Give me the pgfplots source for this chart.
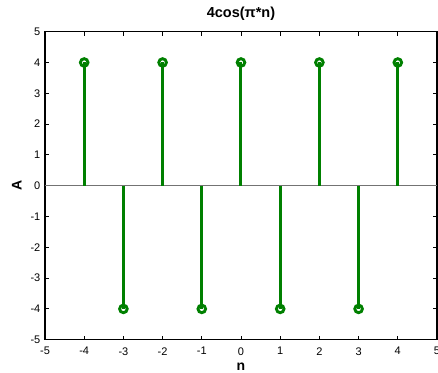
\documentclass[border=0pt]{standalone}
\usepackage{fontspec}
\setmainfont{Liberation Sans}
\usepackage{pgfplots}
\pgfplotsset{compat=1.18}
\definecolor{stemgreen}{RGB}{0,128,0}
\begin{document}
\begin{tikzpicture}
\path[use as bounding box] (0,0) rectangle (438bp,373bp);
\begin{axis}[
  at={(45bp,33.3bp)}, anchor=south west,
  width=392bp, height=308bp, scale only axis,
  xmin=-5, xmax=5, ymin=-5, ymax=5,
  xtick={-5,-4,-3,-2,-1,0,1,2,3,4,5},
  ytick={-5,-4,-3,-2,-1,0,1,2,3,4,5},
  xticklabels={-5,-4,-3,-2,-1,0,1,2,3,4,5},
  yticklabels={-5,-4,-3,-2,-1,0,1,2,3,4,5},
  tick align=inside, major tick length=4bp,
  axis line style={line width=1.1bp},
  every tick/.style={black, line width=0.8bp},
  ticklabel style={font=\fontsize{11bp}{12bp}\selectfont, inner sep=0pt},
  xticklabel style={yshift=-7.5bp},
  yticklabel style={xshift=-4.5bp},
  title={4cos(π*n)},
  title style={font=\fontsize{14.5bp}{16bp}\selectfont\bfseries, at={(axis description cs:0.5,1)}, anchor=base, yshift=8.5bp, inner sep=0pt},
  xlabel={n},
  xlabel style={font=\fontsize{14bp}{15bp}\selectfont\bfseries, at={([yshift=-30.5bp]axis description cs:0.5,0)}, anchor=base, inner sep=0pt},
  ylabel={A},
  ylabel style={font=\fontsize{14bp}{15bp}\selectfont\bfseries, at={([xshift=-23.3bp]axis description cs:0,0.5)}, anchor=base, rotate=0, inner sep=0pt},
]
\addplot[black!55, line width=0.8bp, forget plot] coordinates {(-5,0) (5,0)};
\addplot[ycomb, stemgreen, line width=3bp, mark=o, mark size=3.8bp,
  mark options={fill=white, line width=2.9bp}] coordinates {
  (-4,4) (-3,-4) (-2,4) (-1,-4) (0,4) (1,-4) (2,4) (3,-4) (4,4)};
\end{axis}
\end{tikzpicture}
\end{document}
